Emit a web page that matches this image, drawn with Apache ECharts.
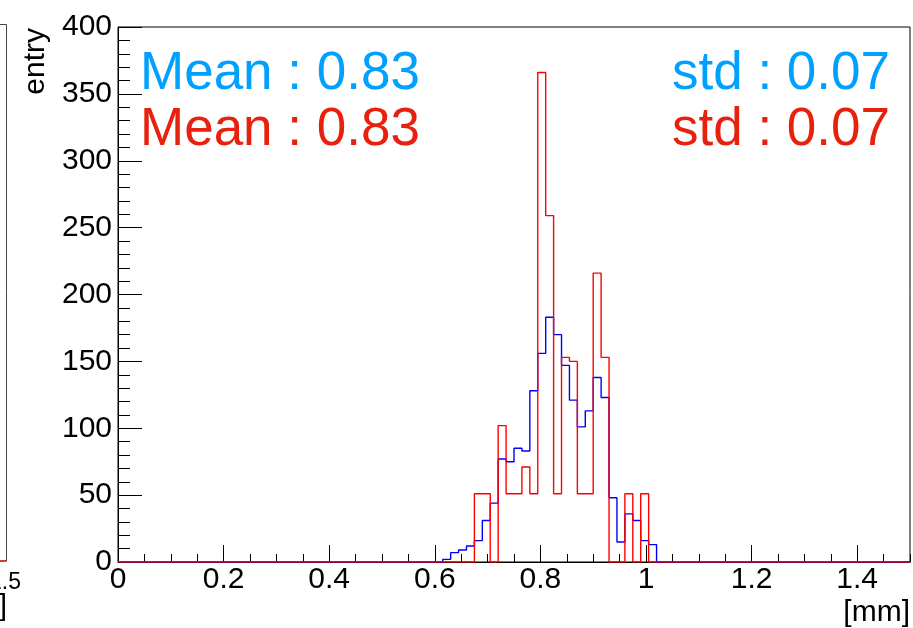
<!DOCTYPE html>
<html>
<head>
<meta charset="utf-8">
<script src="https://cdn.jsdelivr.net/npm/echarts@6/dist/echarts.min.js"></script>
<style>
html,body{margin:0;padding:0;background:#fff;}
#chart{width:913px;height:628px;}
</style>
</head>
<body>
<div id="chart"></div>
<script>
// ---- data ----
const binWidth = 0.015;
const nBins = 100;
const xMin = 0, xMax = 1.5;
const yMin = 0, yMax = 400;

const blueFirstBin = 41;   // bin starting at 0.615
const blueCounts = [2, 7, 9, 12, 16, 31, 44, 77, 75, 85, 83, 128, 156, 183, 170, 147, 121, 101, 113, 138, 123, 48, 15, 36, 31, 16, 13];

const redFirstBin = 45;    // bin starting at 0.675
const redCounts = [51, 51, 0, 102, 51, 51, 71, 51, 366, 259, 51, 153, 150, 51, 51, 216, 153, 0, 0, 51, 0, 51];

const statsBlue = ['Mean : 0.83', 'std : 0.07'];
const statsRed = ['Mean : 0.83', 'std : 0.07'];

const yTitle = 'entry';
const xTitle = '[mm]';

// ---- build histogram step data ----
function histSteps(firstBin, counts) {
  const full = new Array(nBins).fill(0);
  counts.forEach((c, i) => { full[firstBin + i] = c; });
  const pts = [[xMin, 0]];
  for (let i = 0; i < nBins; i++) {
    pts.push([+(((i + 1) * binWidth).toFixed(4)), full[i]]);
  }
  pts.push([xMax, 0]);
  return pts;
}

const chart = echarts.init(document.getElementById('chart'), null, {renderer: 'canvas'});
const FONT = 'Liberation Sans, Arial, Helvetica, sans-serif';

const option = {
  animation: false,
  backgroundColor: '#ffffff',
  grid: {left: 118, right: 2, top: 27, bottom: 64, show: true, borderColor: '#000', borderWidth: 1, containLabel: false},
  xAxis: [{
    type: 'value', min: xMin, max: xMax, interval: 0.2,
    axisLine: {show: true, lineStyle: {color: '#000', width: 1}},
    axisTick: {show: true, inside: true, length: 17, lineStyle: {color: '#000', width: 1}},
    minorTick: {show: false},
    splitLine: {show: false},
    axisLabel: {show: true, color: '#000', fontSize: 30, fontFamily: FONT, margin: 3, showMaxLabel: false,
      formatter: v => String(+v.toFixed(2))},
    name: xTitle, nameLocation: 'end', nameGap: 0,
    nameTextStyle: {color: '#000', fontSize: 30, fontFamily: FONT, align: 'right', verticalAlign: 'top', padding: [36, 0, 0, 0]}
  }, {
    type: 'value', min: xMin, max: xMax, interval: 0.05, position: 'bottom',
    axisLine: {show: false},
    axisTick: {show: true, inside: true, length: 8, lineStyle: {color: '#000', width: 1}},
    axisLabel: {show: false}, splitLine: {show: false}
  }],
  yAxis: {
    type: 'value', min: yMin, max: yMax, interval: 50,
    axisLine: {show: true, lineStyle: {color: '#000', width: 1}},
    axisTick: {show: true, inside: true, length: 24, lineStyle: {color: '#000', width: 1}},
    minorTick: {show: true, splitNumber: 5, length: 12, lineStyle: {color: '#000', width: 1}},
    splitLine: {show: false},
    axisLabel: {color: '#000', fontSize: 30, fontFamily: FONT, margin: 6}
  },
  series: [{
    type: 'line', name: 'blue', step: 'start', xAxisIndex: 0,
    data: histSteps(blueFirstBin, blueCounts),
    showSymbol: false, symbol: 'none',
    lineStyle: {color: '#0000ff', width: 1.4}, z: 3
  }, {
    type: 'line', name: 'red', step: 'start', xAxisIndex: 0,
    data: histSteps(redFirstBin, redCounts),
    showSymbol: false, symbol: 'none',
    lineStyle: {color: '#ff0000', width: 1.4}, z: 4
  }],
  graphic: [
    {type: 'text', x: 140, y: 74, style: {text: statsBlue[0], fill: '#00a0ff', font: '53px ' + FONT, align: 'left', verticalAlign: 'middle'}},
    {type: 'text', x: 890, y: 74, style: {text: statsBlue[1], fill: '#00a0ff', font: '53px ' + FONT, align: 'right', verticalAlign: 'middle'}},
    {type: 'text', x: 140, y: 130, style: {text: statsRed[0], fill: '#e8200e', font: '53px ' + FONT, align: 'left', verticalAlign: 'middle'}},
    {type: 'text', x: 890, y: 130, style: {text: statsRed[1], fill: '#e8200e', font: '53px ' + FONT, align: 'right', verticalAlign: 'middle'}},
    {type: 'text', x: 36, y: 28, rotation: Math.PI / 2, style: {text: yTitle, fill: '#000', font: '30px ' + FONT, align: 'right', verticalAlign: 'middle'}},
    // neighbouring panel remnants at the left edge
    {type: 'polyline', shape: {points: [[0, 24.5], [6.5, 24.5], [6.5, 561]]}, style: {stroke: '#444', lineWidth: 1, fill: null}},
    {type: 'line', shape: {x1: 0, y1: 561, x2: 6.5, y2: 561}, style: {stroke: '#c00000', lineWidth: 1.5}},
    {type: 'text', x: 5, y: 571, style: {text: '1.5', fill: '#000', font: '23px ' + FONT, align: 'center', verticalAlign: 'top'}},
    {type: 'text', x: 7, y: 592, style: {text: '[mm]', fill: '#000', font: '30px ' + FONT, align: 'right', verticalAlign: 'top'}}
  ]
};
chart.setOption(option);
</script>
</body>
</html>
